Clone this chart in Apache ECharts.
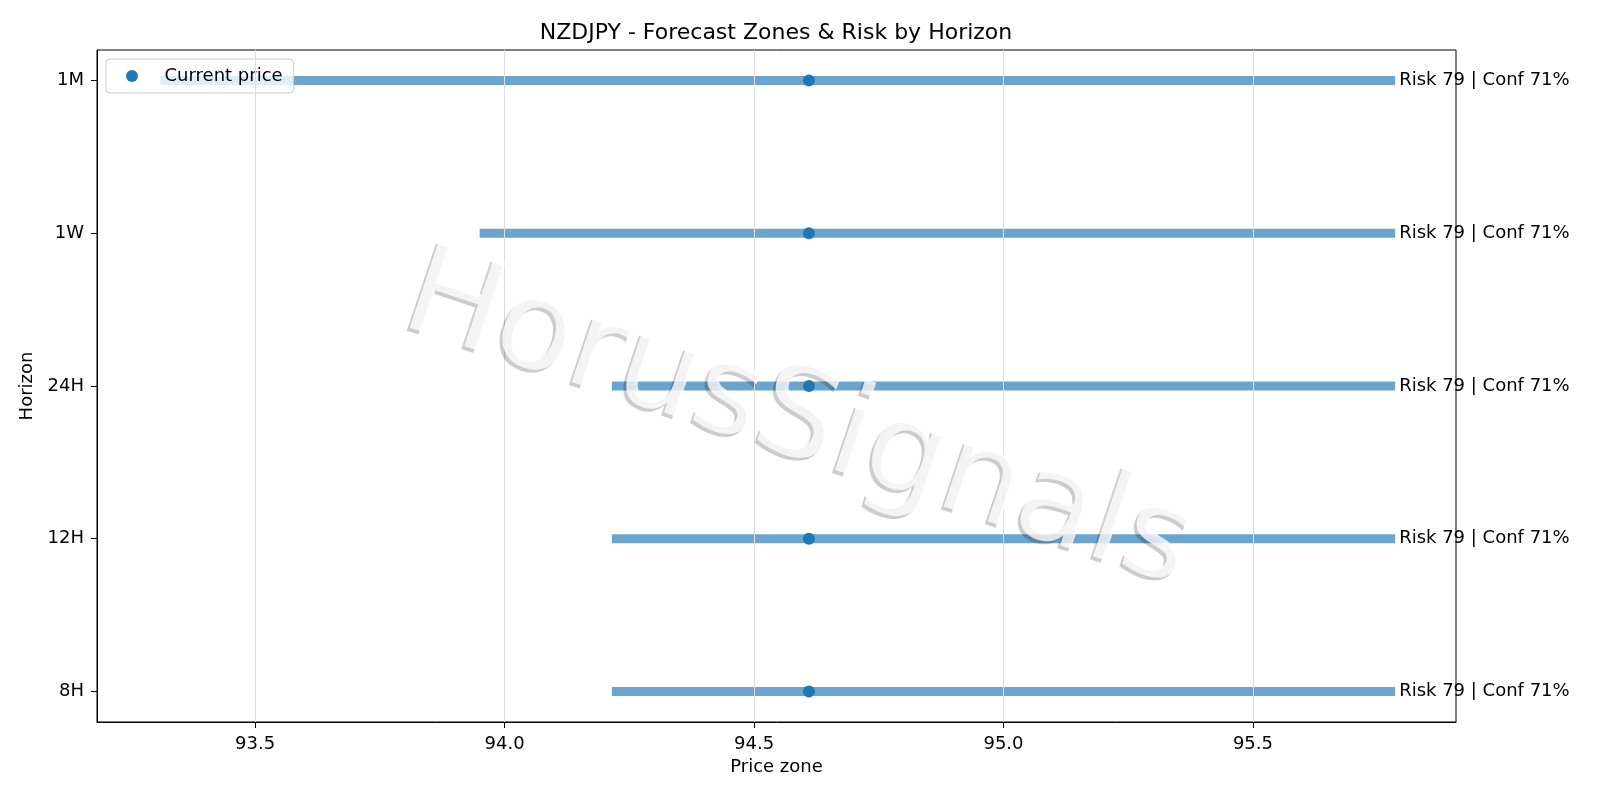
<!DOCTYPE html>
<html><head><meta charset="utf-8">
<script src="https://cdn.jsdelivr.net/npm/echarts@6/dist/echarts.min.js"></script>
<style>html,body{margin:0;padding:0;background:#fff}#c{width:1600px;height:800px}</style>
</head><body><div id="c"></div>
<script>
const horizons = ['8H', '12H', '24H', '1W', '1M'];
const zoneLow = [94.215, 94.215, 94.215, 93.95, 93.31];
const zoneHigh = [95.785, 95.785, 95.785, 95.785, 95.785];
const currentPrice = [94.61, 94.61, 94.61, 94.61, 94.61];
const riskScore = [79, 79, 79, 79, 79];
const confidence = [71, 71, 71, 71, 71];
const xTicks = [93.5, 94.0, 94.5, 95.0, 95.5];
const yTicks = [0, 1, 2, 3, 4];

const FONT = '"DejaVu Sans", sans-serif';
const zoneData = horizons.map((h, i) => [zoneLow[i], zoneHigh[i], i]);
const priceData = horizons.map((h, i) => [currentPrice[i], i]);
const labelData = horizons.map((h, i) => ({ value: [zoneHigh[i], i], risk: riskScore[i], conf: confidence[i] }));

const WM_X = 798, WM_Y = 423, WM_ROT = -18.5 * Math.PI / 180;
const wmStyle = (fill) => ({
  text: 'HorusSignals', fontFamily: FONT, fontSize: 126,
  fill: fill, align: 'center', verticalAlign: 'middle'
});

const chart = echarts.init(document.getElementById('c'), null, { renderer: 'canvas' });
chart.setOption({
  animation: false,
  backgroundColor: '#fff',
  title: {
    text: 'NZDJPY - Forecast Zones & Risk by Horizon',
    left: 771, top: 17, textAlign: 'center',
    textStyle: { fontFamily: FONT, fontSize: 22, fontWeight: 'normal', color: '#000' }
  },
  legend: {
    data: ['Current price'],
    left: 106, top: 59,
    padding: [8, 11, 8, 20],
    icon: 'circle', itemWidth: 55, itemHeight: 12,
    backgroundColor: 'rgba(255,255,255,0.8)',
    borderColor: '#cccccc', borderWidth: 1, borderRadius: 4,
    textStyle: { fontFamily: FONT, fontSize: 18, color: '#000' }
  },
  grid: { left: 97, right: 144, top: 50, bottom: 78, show: true, borderColor: '#000', borderWidth: 1, backgroundColor: 'transparent' },
  xAxis: {
    type: 'value', min: 93.183, max: 95.907,
    name: 'Price zone', nameLocation: 'middle', nameGap: 34,
    nameTextStyle: { fontFamily: FONT, fontSize: 18, color: '#000' },
    axisLine: { show: true, onZero: false, lineStyle: { color: '#000', width: 1 } },
    axisTick: { show: true, length: 6, lineStyle: { color: '#000' }, customValues: xTicks },
    axisLabel: { fontFamily: FONT, fontSize: 18, color: '#000', margin: 13, customValues: xTicks,
      formatter: v => v.toFixed(1) },
    splitLine: { show: false }
  },
  yAxis: {
    type: 'value', min: -0.2, max: 4.2,
    name: 'Horizon', nameLocation: 'middle', nameGap: 52, nameRotate: 90,
    nameTextStyle: { fontFamily: FONT, fontSize: 18, color: '#000' },
    axisLine: { show: true, onZero: false, lineStyle: { color: '#000', width: 1 } },
    axisTick: { show: true, length: 6, lineStyle: { color: '#000' }, customValues: yTicks },
    axisLabel: { fontFamily: FONT, fontSize: 18, color: '#000', margin: 13, customValues: yTicks,
      formatter: v => horizons[Math.round(v)] },
    splitLine: { show: false }
  },
  graphic: [
    { type: 'text', x: WM_X - 3, y: WM_Y + 3, rotation: WM_ROT, z: 100, silent: true,
      style: wmStyle('rgba(0,0,0,0.2)') },
    { type: 'text', x: WM_X, y: WM_Y, rotation: WM_ROT, z: 101, silent: true,
      style: wmStyle('rgba(255,255,255,0.78)') }
  ],
  series: [
    {
      type: 'line', data: [], z: 1, silent: true,
      markLine: {
        silent: true, symbol: ['none', 'none'], label: { show: false },
        lineStyle: { color: '#dedede', width: 1, type: 'solid' },
        data: xTicks.map(v => ({ xAxis: v }))
      }
    },
    {
      type: 'custom', name: 'zones', z: 2,
      renderItem: (params, api) => {
        const a = api.coord([api.value(0), api.value(2)]);
        const b = api.coord([api.value(1), api.value(2)]);
        return { type: 'line', shape: { x1: a[0], y1: a[1], x2: b[0], y2: b[1] },
          style: { stroke: 'rgba(31,119,180,0.66)', lineWidth: 9, lineCap: 'butt' } };
      },
      encode: { x: [0, 1], y: 2 },
      data: zoneData
    },
    {
      type: 'scatter', name: 'Current price', z: 3, symbolSize: 12,
      itemStyle: { color: '#1f77b4', opacity: 1 },
      data: priceData
    },
    {
      type: 'scatter', name: 'labels', z: 4, symbolSize: 0, silent: true,
      label: {
        show: true, position: 'right', distance: 4,
        fontFamily: FONT, fontSize: 18, color: '#000', textBorderWidth: 0, opacity: 1,
        formatter: p => 'Risk ' + p.data.risk + ' | Conf ' + p.data.conf + '%'
      },
      data: labelData
    }
  ]
});
</script></body></html>
